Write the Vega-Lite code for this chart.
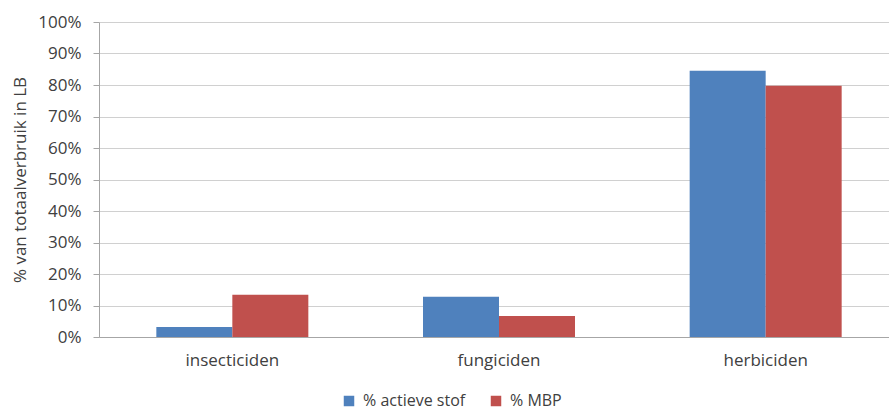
{
  "$schema": "https://vega.github.io/schema/vega-lite/v6.json",
  "autosize": "none",
  "width": 800,
  "height": 315,
  "padding": {"left": 99, "top": 22, "right": 0, "bottom": 75},
  "background": "white",
  "config": {
    "font": "Open Sans",
    "view": {"stroke": null},
    "axis": {"labelFont": "Open Sans", "titleFont": "Open Sans", "labelColor": "#404040", "titleColor": "#404040"}
  },
  "data": {
    "values": [
      {"categorie": "insecticiden", "reeks": "% actieve stof", "waarde": 0.032},
      {"categorie": "insecticiden", "reeks": "% MBP", "waarde": 0.134},
      {"categorie": "fungiciden", "reeks": "% actieve stof", "waarde": 0.128},
      {"categorie": "fungiciden", "reeks": "% MBP", "waarde": 0.067},
      {"categorie": "herbiciden", "reeks": "% actieve stof", "waarde": 0.845},
      {"categorie": "herbiciden", "reeks": "% MBP", "waarde": 0.798}
    ]
  },
  "mark": {"type": "bar"},
  "encoding": {
    "x": {
      "field": "categorie",
      "type": "nominal",
      "sort": ["insecticiden", "fungiciden", "herbiciden"],
      "scale": {"paddingInner": 0.43, "paddingOuter": 0.215},
      "axis": {
        "title": null,
        "labelAngle": 0,
        "labelFontSize": 17,
        "labelPadding": 15,
        "ticks": false,
        "domainColor": "#a6a6a6",
        "grid": false
      }
    },
    "xOffset": {
      "field": "reeks",
      "type": "nominal",
      "sort": ["% actieve stof", "% MBP"],
      "scale": {"paddingInner": 0, "paddingOuter": 0}
    },
    "y": {
      "field": "waarde",
      "type": "quantitative",
      "scale": {"domain": [0, 1], "nice": false},
      "axis": {
        "title": "% van totaalverbruik in LB",
        "titleFontSize": 17,
        "titleFontWeight": "normal",
        "titlePadding": 8,
        "format": ".0%",
        "values": [0, 0.1, 0.2, 0.3, 0.4, 0.5, 0.6, 0.7, 0.8, 0.9, 1],
        "labelFontSize": 17,
        "labelPadding": 12,
        "tickSize": 6,
        "tickColor": "#a6a6a6",
        "domainColor": "#a6a6a6",
        "gridColor": "#d0d0d0",
        "gridWidth": 1.2
      }
    },
    "color": {
      "field": "reeks",
      "type": "nominal",
      "sort": ["% actieve stof", "% MBP"],
      "scale": {"domain": ["% actieve stof", "% MBP"], "range": ["#4F81BD", "#C0504D"]},
      "legend": {
        "title": null,
        "orient": "none",
        "direction": "horizontal",
        "legendX": 242,
        "legendY": 371,
        "symbolType": "square",
        "symbolSize": 110,
        "symbolStrokeWidth": 0,
        "labelFontSize": 16,
        "labelOffset": 6,
        "labelColor": "#404040",
        "labelFont": "Open Sans",
        "columnPadding": 22
      }
    }
  }
}
